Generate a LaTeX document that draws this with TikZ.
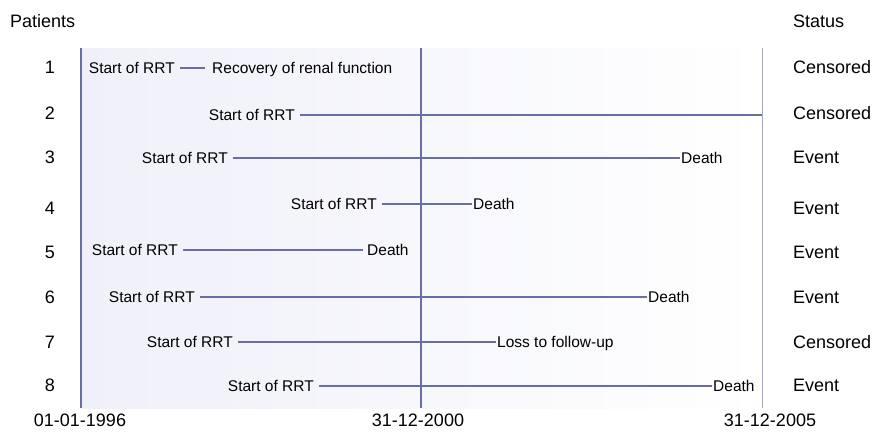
\documentclass[tikz,border=0pt]{standalone}
\usepackage{fontspec}
\setmainfont{Liberation Sans}
\usetikzlibrary{calc}

\definecolor{trackcol}{HTML}{6A6EA8}
\definecolor{endcol}{HTML}{A6A9D3}
\definecolor{bgcol}{HTML}{EFF0F9}

\tikzset{
  bigtext/.style={font=\fontsize{18}{20}\selectfont, inner sep=0pt},
  starttext/.style={font=\fontsize{15.5}{17}\selectfont, anchor=east, inner xsep=5pt, inner ysep=0pt, text depth=0pt},
  endtext/.style={font=\fontsize{15.5}{17}\selectfont, anchor=west, inner xsep=1pt, inner ysep=0pt, text depth=0pt},
  track/.style={draw=trackcol, line width=2pt},
}

\begin{document}
\begin{tikzpicture}[x=1pt, y=-1pt]
        \useasboundingbox (0,0) rectangle (875,432);

        % time axis
        \coordinate (T0) at (81,48);   \coordinate (B0) at (81,408);
        \coordinate (T1) at (421,48);  \coordinate (B1) at (421,408);
        \coordinate (T2) at (762,48);  \coordinate (B2) at (762,408);

        \fill[left color=bgcol, right color=white] (T0) rectangle (B2);
        \draw[trackcol, line width=2.4pt] (T0) -- (B0);
        \draw[trackcol, line width=2.2pt] (T1) -- (B1);
        \draw[endcol, line width=1pt] (T2) -- (B2);

        \node[bigtext, anchor=west] (pat) at (10,21) {Patients};
        \node[bigtext, anchor=west] (stat) at (793,21) {Status};

        \node[bigtext] (d0) at (80,420) {01-01-1996};
        \node[bigtext] (d1) at (418,420) {31-12-2000};
        \node[bigtext] (d2) at (770,420) {31-12-2005};

        \foreach \n/\y/\st in {1/67/Censored, 2/113/Censored, 3/157/Event, 4/208/Event,
                               5/252/Event, 6/297/Event, 7/342/Censored, 8/385/Event}{
            \node[bigtext] (n\n) at (50,\y) {\n};
            \node[bigtext, anchor=west] (st\n) at (793,\y) {\st};
        }

        % patients
        \node[starttext] (s1) at (180,68) {Start of RRT};
        \node[endtext, inner xsep=7pt] (e1) at (205,68) {Recovery of renal function};
        \draw[track] (s1) -- (e1);

        \node[starttext] (s2) at (300,115) {Start of RRT};
        \coordinate (e2) at (762,115);
        \draw[track] (s2) -- (e2);

        \node[starttext] (s3) at (233,158) {Start of RRT};
        \node[endtext] (e3) at (680,158) {Death};
        \draw[track] (s3) -- (e3);

        \node[starttext] (s4) at (382,204) {Start of RRT};
        \node[endtext] (e4) at (472,204) {Death};
        \draw[track] (s4) -- (e4);

        \node[starttext] (s5) at (183,250) {Start of RRT};
        \node[endtext, inner xsep=4pt] (e5) at (363,250) {Death};
        \draw[track] (s5) -- (e5);

        \node[starttext] (s6) at (200,297) {Start of RRT};
        \node[endtext] (e6) at (647,297) {Death};
        \draw[track] (s6) -- (e6);

        \node[starttext] (s7) at (238,342) {Start of RRT};
        \node[endtext] (e7) at (496,342) {Loss to follow-up};
        \draw[track] (s7) -- (e7);

        \node[starttext] (s8) at (319,386) {Start of RRT};
        \node[endtext] (e8) at (712,386) {Death};
        \draw[track] (s8) -- (e8);

    \end{tikzpicture}
\end{document}
